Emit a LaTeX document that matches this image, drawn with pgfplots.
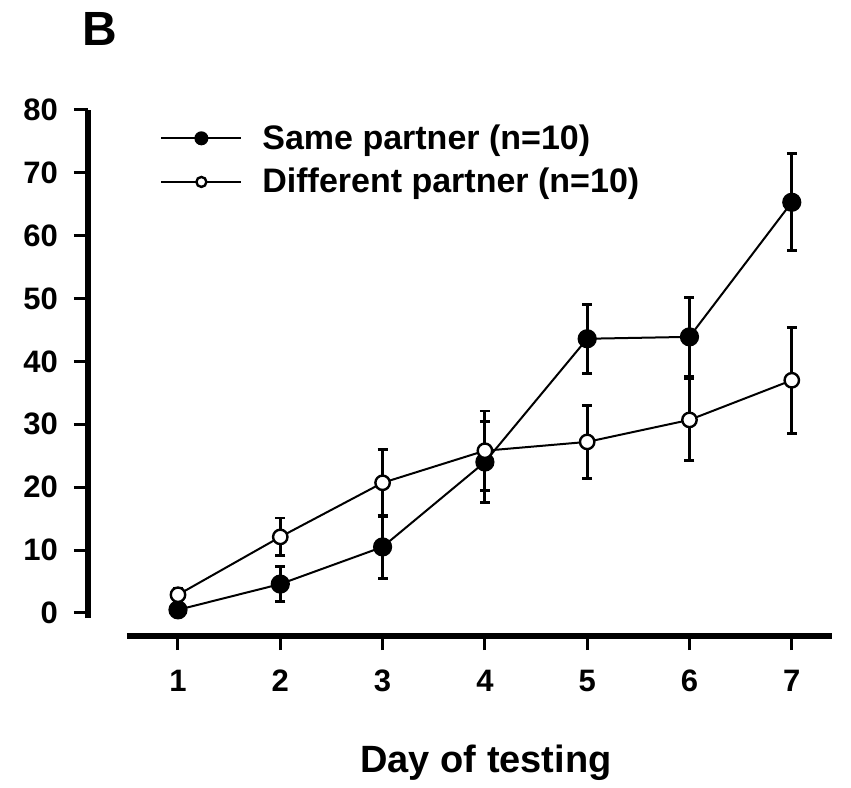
\documentclass[border=0pt]{standalone}
\usepackage{fontspec}
\setmainfont{Liberation Sans}
\usepackage{pgfplots}
\pgfplotsset{compat=1.18}
\usepackage{pgfplotstable}

% day, mean, sem
\pgfplotstableread{
day mean err
1 0.5 0.6
2 4.6 2.8
3 10.5 5.0
4 24.0 6.4
5 43.6 5.5
6 43.9 6.3
7 65.3 7.7
}\samepartner

\pgfplotstableread{
day mean err
1 2.9 1.0
2 12.1 3.0
3 20.7 5.3
4 25.8 6.3
5 27.2 5.8
6 30.7 6.5
7 37.0 8.4
}\diffpartner

\begin{document}
\begin{tikzpicture}
\begin{axis}[
    x=51.15pt, y=3.145pt,
    xmin=0.120, xmax=7.393,
    ymin=-3.66, ymax=80,
    clip=false,
    axis x line*=bottom,
    axis y line*=left,
    x axis line style={line width=3pt, shorten <=19.5pt},
    y axis line style={line width=3pt, shorten <=9pt},
    xtick={1,...,7},
    ytick={0,10,...,80},
    tick align=outside,
    major tick length=7pt,
    tick style={line width=1.5pt, black},
    /pgf/number format/assume math mode=true,
    tick label style={font=\fontsize{15.5}{17}\selectfont\bfseries},
    xticklabel style={yshift=-6.5pt},
    yticklabel style={xshift=-4.5pt},
    xlabel={Day of testing},
    xlabel style={at={(axis description cs:0.535,-0.2407)}, anchor=center,
        font=\fontsize{19}{21}\selectfont\bfseries},
    legend style={at={(axis cs:0.824,72.0)}, anchor=west, draw=none, fill=none,
        font=\fontsize{17}{19}\selectfont\bfseries, inner sep=0pt,
        row sep=4pt, nodes={inner sep=2pt},
        /tikz/every odd column/.append style={column sep=8pt}},
    legend cell align=left,
    legend image code/.code={
        \draw[#1, mark repeat=2, mark phase=2]
            plot coordinates {(0pt,0pt) (20pt,0pt) (40pt,0pt)};},
    error bars/error bar style={line width=1.4pt, black},
    error bars/error mark options={rotate=90, line width=1.4pt, mark size=2.5pt, black},
]
\addplot[black, line width=1pt, mark=*, mark size=4.3pt,
    mark options={fill=black, draw=black},
    legend image post style={mark size=3pt},
    error bars/.cd, y dir=both, y explicit]
    table[x=day, y=mean, y error=err] {\samepartner};
\addlegendentry{Same partner (n=10)}

\addplot[black, line width=1pt, mark=*, mark size=3.6pt,
    mark options={fill=white, draw=black, line width=1.2pt},
    legend image post style={mark size=2.5pt},
    error bars/.cd, y dir=both, y explicit]
    table[x=day, y=mean, y error=err] {\diffpartner};
\addlegendentry{Different partner (n=10)}

\node[font=\fontsize{24}{26}\selectfont\bfseries] at (axis cs:0.235,92.8) {B};

\coordinate (bbl) at (axis cs:-0.740,-27.82);
\coordinate (btr) at (axis cs:7.579,97.46);
\end{axis}
\pgfresetboundingbox
\path (bbl) rectangle (btr);
\end{tikzpicture}
\end{document}
